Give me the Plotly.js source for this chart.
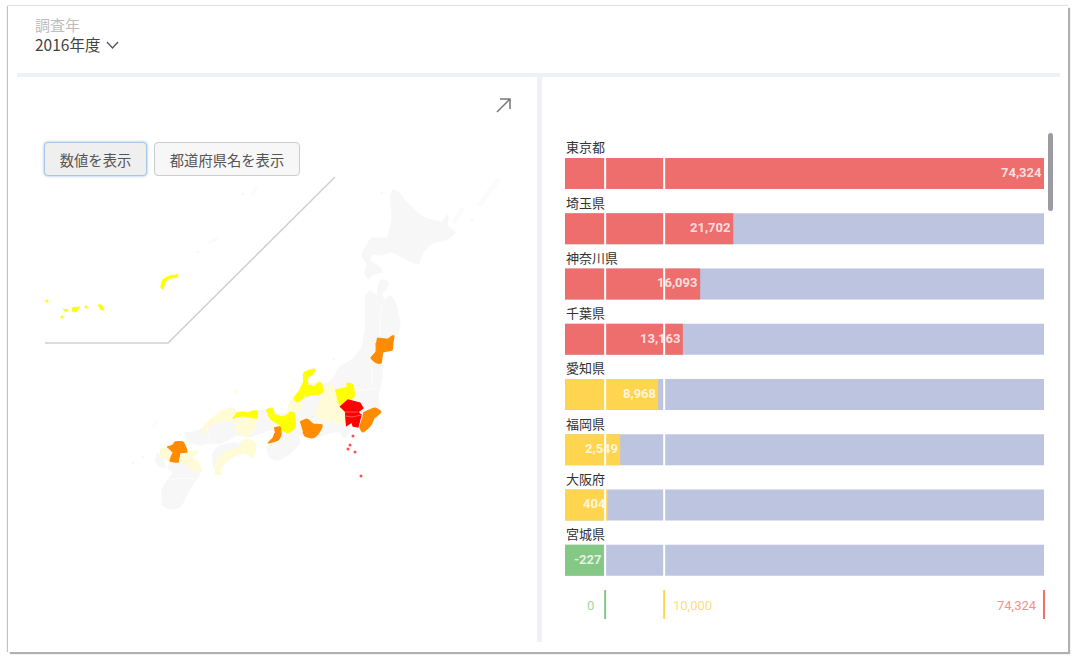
<!DOCTYPE html>
<html>
<head>
<meta charset="utf-8">
<script src="https://cdn.plot.ly/plotly-3.0.1.min.js"></script>
<style>
  body { margin: 0; background: #fff; font-family: "Noto Sans CJK JP", sans-serif; }
  #card { position: absolute; left: 8px; top: 6px; width: 1060px; height: 646px; background: #fff;
          box-shadow: 2px 2px 1px #b0b0b0, -1px 0 1px #c4c4c4, 0 -1px 1px #e8e8e8; }
  .band { position: absolute; background: #f0f0f7; }
  #year-label { position: absolute; left: 35px; top: 16px; font-size: 15px; line-height: 18px; color: #bdbdbd; }
  #year-value { position: absolute; left: 35px; top: 35px; font-size: 15.5px; line-height: 18px; color: #444; }
  #chevron { position: absolute; left: 106px; top: 41px; }
  #expand { position: absolute; left: 495px; top: 97px; }
  button { position: absolute; top: 142px; height: 34px; font: 14.3px "Noto Sans CJK JP", sans-serif; color: #555;
           border-radius: 4px; z-index: 5; padding: 0; }
  #btn-value { left: 44px; width: 103px; background: #efefef; border: 1px solid #a9c8e8; box-shadow: 0 0 3px #8fbce8; }
  #btn-name { left: 154px; width: 146px; background: #f7f7f7; border: 1px solid #ccc; }
  #map { position: absolute; left: 40px; top: 170px; width: 470px; height: 345px; }
  #bars { position: absolute; left: 545px; top: 130px; width: 510px; height: 495px; }
  #scrollbar { position: absolute; left: 1048px; top: 133px; width: 5px; height: 78px; background: #9b9ba1; border-radius: 3px; z-index: 5; }
</style>
</head>
<body>
<div id="card"></div>
<div class="band" style="left:17px;top:73px;width:1043px;height:4px"></div>
<div class="band" style="left:537px;top:77px;width:5px;height:565px"></div>
<div id="year-label">調査年</div>
<div id="year-value">2016年度</div>
<svg id="chevron" width="13" height="9"><path d="M1 1 L6.5 7 L12 1" fill="none" stroke="#555" stroke-width="1.3"/></svg>
<svg id="expand" width="17" height="17"><path d="M2 15 L15 2 M5 2 L15 2 L15 12" fill="none" stroke="#777" stroke-width="1.5"/></svg>
<button id="btn-value">数値を表示</button>
<button id="btn-name">都道府県名を表示</button>
<div id="map"></div>
<div id="bars"></div>
<div id="scrollbar"></div>

<script>
// ranking
var prefectures = ["東京都", "埼玉県", "神奈川県", "千葉県", "愛知県", "福岡県", "大阪府", "宮城県"];
var values = [74324, 21702, 16093, 13163, 8968, 2549, 404, -227];
var axisMin = -6800;
var axisMax = 74324;
var thresholds = [0, 10000, 74324];
var thresholdLabels = ["0", "10,000", "74,324"];

var barRed = "#ee6e6e";
var barYellow = "#ffd54f";
var barGreen = "#84c885";
var trackColor = "#bcc4e0";

var faint = "#fbfbfb";
var gray = "#f7f7f7";
var pale = "#fffbd6";
var yellow = "#ffff00";
var orange = "#ff8c00";
var red = "#ff0000";

// prefecture outlines, rough [lon, lat]
var hokkaido = [[141.1,46.95],[141.4,46.85],[141.85,46.3],[142.65,45.6],[143.6,45.35],[143.85,45.7],[143.9,45.55],[143.85,45.2],[144.25,44.8],[143.75,44.45],[143.1,44.3],[142.65,43.85],[142.4,43.25],[141.9,43.45],[141.1,43.85],[140.5,43.7],[140.1,43.75],[140,43.45],[140.5,43.05],[140.6,42.85],[140.1,42.7],[139.9,42.5],[139.75,42.8],[139.85,43.2],[139.6,43.7],[140.1,44.55],[140.85,44.55],[141.1,45.55],[141,46.7]];
var kuril1 = [[144.1,45.35],[144.6,46.1],[144.7,46],[144.25,45.25]];
var kuril2 = [[145.35,46.2],[146.4,47.55],[146.5,47.45],[145.5,46.1]];
var amami = [[131.85,44.35],[132.35,44.55],[132.4,44.45],[131.9,44.25]];
var tanegashima = [[134.05,46.7],[134.25,47.1],[134.35,47.05],[134.15,46.65]];
var tsushima = [[129.1,35.1],[129.35,35.45],[129.4,35.4],[129.2,35.05]];
var honshu = [[139.75,41.6],[140,41.9],[140.35,41.65],[140.4,42.1],[140.55,42.45],[140.9,42.35],[140.8,41.95],[140.6,41.8],[140.7,41.45],[141.05,41.65],[141.3,41.2],[141.4,40.7],[141.5,40.3],[141.4,39.8],[141.2,39.65],[141.1,38.95],[140.65,38.8],[140.6,38.2],[140.6,37.55],[140.4,36.6],[140.5,35.85],[139.6,34.85],[139.4,35.1],[139.1,35.05],[138.75,34.55],[138.5,34.85],[138,34.8],[137.4,34.6],[137.1,34.55],[136.4,34.7],[136.5,34.35],[136.25,34.05],[135.9,33.7],[135.35,33.45],[135,33.6],[134.85,34.05],[135.1,34.35],[135.5,34.65],[135.1,34.95],[134.4,34.75],[134,34.6],[133.35,34.7],[132.6,34.3],[131.9,34.3],[131.5,34.2],[130.85,34.45],[130.75,34.8],[131.15,34.85],[131.65,35.05],[132.5,35.85],[133.15,36.05],[133.35,35.8],[134.15,35.9],[134.8,35.95],[135.1,36.05],[135.25,35.8],[135.85,35.8],[136.2,36.55],[136.65,37.2],[136.85,37.2],[137.45,37.35],[137.6,37.2],[138.1,37.45],[138.5,38.1],[139.1,38.45],[139.6,39.1],[139.75,39.95]];
var ehime = [[132.1,33.7],[132.4,34.1],[133.25,34.3],[133.6,34.05],[132.75,33.85],[132.35,33.45],[132.15,33.05]];
var kyushu = [[130,33.35],[130.4,33.35],[130.9,33.2],[131.15,32.95],[131.5,32.8],[131,32.05],[130.5,31.1],[130,31],[129.65,31.2],[129.6,31.95],[129.9,32.45],[130.15,32.85],[129.85,33.05]];
var nagasaki = [[129.35,33.85],[129.5,33.6],[129.65,33.45],[129.75,33.1],[129.5,33.1],[129.25,33.45]];

var nagano = [[137.6,37.05],[138.1,37.2],[138.25,36.95],[138.35,36.6],[138.5,36.2],[138.25,36.2],[138.05,35.7],[138,35.35],[137.5,35.55],[137.3,35.85],[137.5,36.3]];
var yamanashi = [[138.05,35.7],[138.25,36.2],[138.5,36.2],[138.5,36.1],[138.75,35.7],[138.75,35.35],[138.25,35.25]];
var fukui = [[135.9,36.1],[136.15,36.55],[136.35,36.35],[136.65,36.2],[136.5,35.95],[136,35.95]];
var okayama = [[133.2,35.4],[133.65,35.6],[134.25,35.5],[134.2,34.95],[133.85,34.65],[133.35,34.8]];
var shimane = [[131.6,34.85],[131.75,35.2],[132.5,35.85],[133.15,36.05],[133.3,35.8],[133.1,35.45],[132.35,35.35],[131.9,35.1],[131.65,34.7]];
var kagawa = [[133.45,34.3],[133.85,34.5],[134.25,34.3],[134.25,33.85],[134.15,33.65],[134,33.95],[133.6,34.05]];
var kochi = [[132.25,32.7],[132.35,33.45],[132.75,33.85],[133.35,34.05],[134,33.95],[134.15,33.55],[133.75,33.8],[133.35,33.7],[132.75,33.35],[132.5,32.95],[132.55,32.7]];
var saga = [[129.5,33.95],[129.85,34.1],[130.15,33.8],[130,33.4],[129.65,33.55],[129.5,33.7]];
var oita = [[130.5,33.8],[130.85,33.85],[131.4,33.9],[131.1,33.55],[131.4,33.35],[131.55,32.85],[131.15,32.95],[130.9,33.2],[130.5,33.35]];

var gunma = [[138.25,36.95],[138.85,37.1],[138.85,37.3],[139.15,37.2],[139.2,36.6],[138.9,36.45],[138.5,36.2],[138.35,36.6]];
var ishikawa = [[136.65,37.7],[136.75,37.85],[137.25,38],[137.15,37.75],[136.85,37.55],[136.9,37.3],[136.65,36.55],[136.35,36.35],[136.2,36.55],[136.45,36.85],[136.65,37.3]];
var toyama = [[136.85,37.1],[137,37.2],[137.2,37.1],[137.45,37.35],[137.6,37.2],[137.6,36.8],[137.25,36.7],[137,36.7],[136.75,36.6]];
var tottori = [[133.15,35.5],[133.35,35.8],[133.65,35.85],[133.9,35.8],[134.15,35.9],[134.35,35.9],[134.35,35.55],[134,35.6],[133.65,35.65],[133.35,35.6]];
var kyoto = [[134.8,35.95],[135.1,36.05],[135.25,35.7],[135.6,35.6],[135.6,34.95],[135.5,35.2],[135.1,35.45],[134.9,35.7]];
var shiga = [[135.6,35.6],[135.85,35.7],[136,35.85],[136.2,35.8],[136.25,35.1],[135.9,34.8],[135.6,34.95]];
var okinawa = [[130.4,42.75],[130.35,42.6],[130,42.55],[129.75,42.35],[129.65,42],[129.55,42.1],[129.65,42.45],[130,42.65],[130.15,42.7]];
var miyako = [[126.4,41.2],[126.55,41.2],[126.7,40.95],[126.5,41]];
var ishigaki = [[125.1,41.05],[125.45,41.1],[125.25,40.85],[125.1,40.9]];
var iriomote = [[124.65,41],[124.9,40.95],[124.75,40.85]];

var miyagi = [[140.35,39.55],[140.9,39.5],[141.1,39.65],[141.2,39.65],[141.15,39.35],[141.1,38.95],[140.65,38.85],[140.55,38.3],[140.35,38.3],[140.05,38.55],[140.3,38.85],[140.3,39.3]];
var chiba = [[139.65,35.8],[140.25,36.05],[140.55,35.85],[140.2,35.55],[140.05,35.2],[139.65,34.85],[139.5,35.05],[139.6,35.45]];
var aichi = [[136.5,35.35],[136.85,35.5],[137.15,35.25],[137.6,35.2],[137.5,34.9],[137.3,34.65],[137.1,34.55],[136.75,34.65],[136.65,34.85]];
var osaka = [[135.2,35.05],[135.5,35.1],[135.55,34.7],[135.4,34.45],[134.9,34.3],[135.15,34.55],[135.25,34.8]];
var fukuoka = [[129.85,34.1],[130.15,34.2],[130.25,34.35],[130.65,34.35],[130.85,33.85],[130.5,33.8],[130.4,33.35],[130,33.4],[130.15,33.8]];

var saitama = [[138.5,36.1],[138.9,36.45],[139.5,36.3],[139.65,36.05],[139.4,35.85],[138.75,35.85]];
var tokyo = [[138.75,35.85],[139.4,35.85],[139.55,35.7],[139.1,35.6],[138.75,35.65]];
var kanagawa = [[138.75,35.65],[139.1,35.6],[139.55,35.7],[139.4,35.1],[139.15,35.15],[139.1,35.35],[138.8,35.15]];

// thin borders that stay visible inside the filled areas
var tohokuBorder = [[140.6,41.2],[140.5,40.5],[140.5,39.7]];
var niigataBorder = [[140,38.45],[140.1,37.8],[140.1,37.2]];
var ibarakiBorder = [[139.2,36.9],[139.8,36.95],[140.4,37.1]];
var chugokuBorder = [[131.85,35.1],[132.05,34.3]];
var kyushuBorder = [[129.9,32.45],[130.6,32.55],[131.3,32.5]];
var redBorder1 = [[138.75,35.85],[139.4,35.85]];
var redBorder2 = [[138.75,35.65],[139.1,35.6],[139.55,35.7]];

// small islands, too small for an outline
var grayIslets = [[140.6,46.8],[145.1,45.45],[128.15,33.3],[128.65,33.6],[138.2,38.5],[133.65,46.75],[131.4,43.85]];
var paleIslets = [[133.35,36.85]];
var yellowIslets = [[123.85,41.4],[124.6,40.6],[125.8,41.1]];
var redIslets = [[139.15,34.65],[139,34.2],[138.9,34],[139.25,33.85],[139.55,32.65]];

// line around the Okinawa inset
var insetLon = [138.25, 129.9, 123.75];
var insetLat = [47.6, 39.3, 39.3];

var mapGroups = [
  [faint, [kuril1, kuril2, amami, tanegashima, tsushima]],
  [gray, [hokkaido, honshu, ehime, kyushu, nagasaki]],
  [pale, [nagano, yamanashi, fukui, okayama, shimane, kagawa, kochi, saga, oita]],
  [yellow, [gunma, ishikawa, toyama, tottori, kyoto, shiga, okinawa, miyako, ishigaki, iriomote]],
  [orange, [miyagi, chiba, aichi, osaka, fukuoka]],
  [red, [saitama, tokyo, kanagawa]]
];

var mapTraces = [{
  x: insetLon,
  y: insetLat,
  mode: "lines",
  line: { color: "#cfcfcf", width: 1.5 }
}];

function lons(list) { return list.map(function(p) { return p[0]; }); }
function lats(list) { return list.map(function(p) { return p[1]; }); }

mapGroups.forEach(function(group) {
  group[1].forEach(function(region) {
    mapTraces.push({
      x: lons(region),
      y: lats(region),
      mode: "lines",
      fill: "toself",
      fillcolor: group[0],
      line: { color: group[0], width: 1.2, shape: group[0] === red ? "linear" : "spline", smoothing: 0.5 }
    });
  });
});

[tohokuBorder, niigataBorder, ibarakiBorder, chugokuBorder, kyushuBorder].forEach(function(b) {
  mapTraces.push({ x: lons(b), y: lats(b), mode: "lines", line: { color: "#fff", width: 0.7 } });
});
[redBorder1, redBorder2].forEach(function(b) {
  mapTraces.push({ x: lons(b), y: lats(b), mode: "lines", line: { color: "#ff9090", width: 0.6 } });
});

function islets(list, color) {
  mapTraces.push({
    x: lons(list),
    y: lats(list),
    mode: "markers",
    marker: { color: color, size: 3 }
  });
}
islets(grayIslets, gray);
islets(paleIslets, pale);
islets(yellowIslets, yellow);
islets(redIslets, "#ff5050");

Plotly.newPlot("map", mapTraces, {
  showlegend: false,
  hovermode: false,
  margin: { l: 0, r: 0, t: 0, b: 0 },
  paper_bgcolor: "rgba(0,0,0,0)",
  plot_bgcolor: "rgba(0,0,0,0)",
  xaxis: { range: [123.5, 147], visible: false, fixedrange: true },
  yaxis: { range: [30.7, 47.95], visible: false, fixedrange: true }
}, { displayModeBar: false });

function bandColor(v) {
  if (v < thresholds[0]) return barGreen;
  if (v < thresholds[1]) return barYellow;
  return barRed;
}

var rows = prefectures.map(function(p, i) { return i; });

var trackTrace = {
  type: "bar",
  orientation: "h",
  y: rows,
  x: rows.map(function() { return axisMax - axisMin; }),
  base: axisMin,
  width: 0.56,
  marker: { color: trackColor },
  hoverinfo: "skip"
};

var valueTrace = {
  type: "bar",
  orientation: "h",
  y: rows,
  x: values.map(function(v) { return v - axisMin; }),
  base: axisMin,
  width: 0.56,
  marker: { color: values.map(bandColor) },
  customdata: prefectures,
  hovertemplate: "%{customdata}: %{x}<extra></extra>"
};

var barAnnotations = [];

prefectures.forEach(function(p, i) {
  // name above the bar
  barAnnotations.push({
    text: p,
    xref: "x",
    yref: "y",
    x: axisMin,
    y: i,
    xanchor: "left",
    yanchor: "middle",
    xshift: -1.5,
    yshift: 26.5,
    showarrow: false,
    font: { family: "Noto Sans CJK JP", size: 13, color: "#333" }
  });
  // value inside the bar, right aligned on its end
  barAnnotations.push({
    text: values[i].toLocaleString("en-US"),
    xref: "x",
    yref: "y",
    x: values[i],
    y: i,
    xanchor: "right",
    yanchor: "middle",
    xshift: 0,
    yshift: 1,
    showarrow: false,
    font: { family: "Roboto", size: 13, weight: 700, color: "rgba(255,255,255,0.78)" }
  });
});

var legendColors = [barGreen, barYellow, "#f07070"];
var legendTextColors = ["#a0d6a2", "#ffdc80", "#f59090"];
var legendAnchors = ["right", "left", "right"];
var legendShift = [-9, 6.5, -4.5];

thresholdLabels.forEach(function(label, i) {
  barAnnotations.push({
    text: label,
    xref: "x",
    yref: "paper",
    x: thresholds[i],
    y: -0.0465,
    xanchor: legendAnchors[i],
    yanchor: "middle",
    xshift: legendShift[i],
    showarrow: false,
    font: { family: "Roboto", size: 13, color: legendTextColors[i] }
  });
});

var barShapes = [];
thresholds.forEach(function(t, i) {
  barShapes.push({
    type: "line", xref: "x", yref: "paper", x0: t, x1: t, y0: -0.0133, y1: -0.0774,
    line: { color: legendColors[i], width: 2 }
  });
  if (i < 2) {
    barShapes.push({
      type: "line", xref: "x", yref: "paper", x0: t, x1: t, y0: 0, y1: 1,
      line: { color: "#fff", width: 2 }
    });
  }
});

Plotly.newPlot("bars", [trackTrace, valueTrace], {
  showlegend: false,
  barmode: "overlay",
  margin: { l: 20, r: 9, t: 2, b: 41 },
  paper_bgcolor: "rgba(0,0,0,0)",
  plot_bgcolor: "rgba(0,0,0,0)",
  xaxis: { range: [axisMin, axisMax + 340], visible: false, fixedrange: true },
  yaxis: { range: [7.43, -0.751], visible: false, fixedrange: true },
  annotations: barAnnotations,
  shapes: barShapes
}, { displayModeBar: false });
</script>
</body>
</html>
